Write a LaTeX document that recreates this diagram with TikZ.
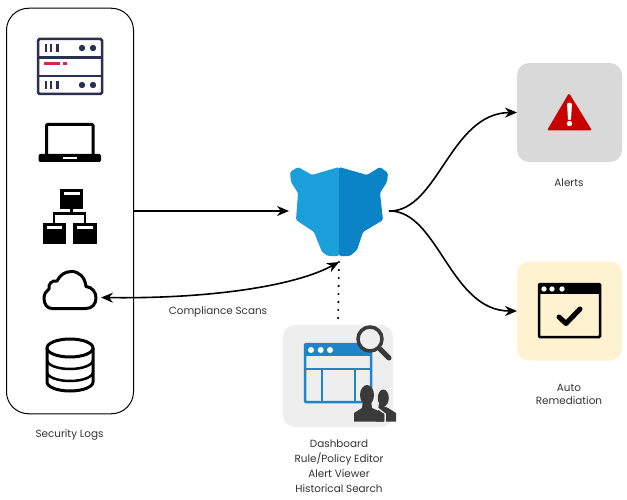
\documentclass[tikz,border=0pt]{standalone}
\usepackage{fontspec}
\setmainfont{Poppins}
\usepackage{xcolor}
\usetikzlibrary{arrows.meta}
\tikzset{every path/.append style={line width=1.6pt}}
\definecolor{servernavy}{HTML}{2B3050}
\definecolor{serverred}{HTML}{E0234E}
\definecolor{bearlight}{HTML}{1A9FDB}
\definecolor{beardark}{HTML}{0A84C6}
\definecolor{panelblue}{HTML}{1E86C8}
\definecolor{dashgrey}{HTML}{EEEEEE}
\definecolor{alertgrey}{HTML}{D9D9D9}
\definecolor{autocream}{HTML}{FFF2D0}
\definecolor{alertred}{HTML}{C80000}
\definecolor{peoplegrey}{HTML}{3A3A3A}
\definecolor{captiongrey}{HTML}{333333}
\tikzset{
  flow/.style={-{Stealth[length=12pt,width=10pt]}},
  twoflow/.style={{Stealth[length=12pt,width=10pt]}-{Stealth[length=12pt,width=10pt]}},
  anchorbox/.style={inner sep=0pt,outer sep=0pt},
  tilebox/.style={anchorbox,rounded corners=12pt,minimum width=105pt,minimum height=99pt},
  caption/.style={inner sep=0pt,text=captiongrey,align=center,font=\fontsize{10.4}{13}\selectfont},
}
\begin{document}
\begin{tikzpicture}[x=1pt,y=-1pt]
 \useasboundingbox (0,0) rectangle (627,500);
 \fill[white] (0,0) rectangle (627,500);
 \node[anchorbox,draw=black,line width=1pt,rounded corners=22pt,minimum width=127pt,minimum height=405.5pt] (logs) at (70,211) {};
 \node[anchorbox,minimum width=100pt,minimum height=102pt] (bear) at (339,211) {};
 \node[tilebox,fill=alertgrey] (alerts) at (569.5,112.5) {};
 \node[tilebox,fill=autocream] (auto) at (569.5,311) {};
 \node[anchorbox,fill=dashgrey,rounded corners=12pt,minimum width=110pt,minimum height=102pt] (dash) at (338,376) {};
 \node[anchorbox,minimum width=62pt,minimum height=20pt] (cloudicon) at (70,297.5) {};
 % server
 \draw[servernavy,line width=2.5pt,rounded corners=1.5pt] (38,39) rectangle (102,94);
 \draw[servernavy,line width=2.5pt] (38,57.5) -- (102,57.5);
 \draw[servernavy,line width=2.5pt] (38,76) -- (102,76);
 \fill[servernavy] (44.5,44) rectangle (47,52);
 \fill[servernavy] (49.5,44) rectangle (52,52);
 \fill[servernavy] (56,44) rectangle (58.5,52);
 \fill[servernavy] (44.5,81) rectangle (47,89);
 \fill[servernavy] (49.5,81) rectangle (52,89);
 \fill[servernavy] (56,81) rectangle (58.5,89);
 \fill[servernavy] (82,48) circle [radius=3.2];
 \fill[servernavy] (93,48) circle [radius=3.2];
 \fill[servernavy] (82,85) circle [radius=3.2];
 \fill[servernavy] (93,85) circle [radius=3.2];
 \fill[serverred] (44,62) rectangle (60,65);
 \fill[serverred] (63,62) rectangle (67,65);
 % laptop
 \draw[line width=3pt,rounded corners=1pt] (46.5,124.5) rectangle (93,156);
 \fill[rounded corners=2pt] (38.5,154) -- (101,154) -- (101,162) -- (38.5,162) -- cycle;
 \fill[white] (63,157) rectangle (77,159);
 % network
 \fill (60,189) rectangle (83,209);
 \fill[white] (64,192) rectangle (80,195);
 \draw[line width=2.5pt] (71.5,209) -- (71.5,213.5);
 \draw[line width=2.5pt] (54,224) -- (54,213.5) -- (85,213.5) -- (85,224);
 \fill (42.5,223) rectangle (66,243.5);
 \fill (73,223) rectangle (97,243.5);
 \fill[white] (46.5,226) rectangle (62,229);
 \fill[white] (77,226) rectangle (93,229);
 % cloud
 \draw[line width=3pt,line join=round] (52,308.5) -- (86,308.5) .. controls (92,308.5) and (96,304) .. (96,298) .. controls (96,292) and (92,287) .. (86,286.5) .. controls (85,277) and (79,271.5) .. (71.5,271.5) .. controls (65,271.5) and (60,275) .. (57,281) .. controls (52,280) and (48,284) .. (49,289) .. controls (46,291) and (44,294) .. (44,298.5) .. controls (44,304) and (47,308.5) .. (52,308.5) -- cycle;
 % database
 \draw[line width=3pt] (70,348) circle [x radius=23,y radius=9];
 \draw[line width=3pt] (47,348) -- (47,382) arc [start angle=180,end angle=0,x radius=23,y radius=9] -- (93,348);
 \draw[line width=2.5pt] (47,360) arc [start angle=180,end angle=0,x radius=23,y radius=9];
 \draw[line width=2.5pt] (47,372) arc [start angle=180,end angle=0,x radius=23,y radius=9];
 % bear
 \fill[bearlight,rounded corners=1.5pt] (339,167) -- (312,175) -- (298,167) -- (290,172) -- (291,182) -- (298,193) -- (296,220) -- (314,232) -- (322,252) -- (328,256) -- (339,256) -- cycle;
 \fill[beardark,rounded corners=1.5pt] (339,167) -- (367,175) -- (380,167) -- (388,173) -- (387,182) -- (380,193) -- (383,220) -- (363,232) -- (357,250) -- (350,256) -- (339,256) -- cycle;
 % dashboard window
 \draw[panelblue,line width=2.5pt,rounded corners=1pt] (305,344) rectangle (371,402);
 \fill[panelblue] (305,344) rectangle (371,356);
 \draw[panelblue,line width=2.5pt] (305,369) -- (371,369);
 \draw[panelblue,line width=2.5pt] (322,369) -- (322,402);
 \draw[panelblue,line width=2.5pt] (355,369) -- (355,402);
 \fill[white] (311,350) circle [radius=3];
 \fill[white] (320.7,350) circle [radius=3];
 \fill[white] (330,350) circle [radius=3];
 \draw[peoplegrey,fill=dashgrey,line width=3.5pt] (370,339) circle [radius=12];
 \draw[peoplegrey,line width=5pt,line cap=round] (380,349) -- (389,358);
 \fill[peoplegrey] (383.3,398) circle [x radius=5.5,y radius=8.5];
 \fill[peoplegrey] (376,421.7) -- (396,421.7) -- (396,413) -- (388,408) -- (379,404) -- cycle;
 \draw[dashgrey,line width=1.5pt] (373.5,405) -- (385,414) -- (385,423);
 \fill[peoplegrey] (367,395) circle [x radius=7,y radius=10];
 \fill[peoplegrey] (354,421.7) -- (354,413) -- (362,408) -- (363,400) -- (371,400) -- (372,408) -- (384,413.5) -- (384,421.7) -- cycle;
 % alert sign
 \fill[alertred,rounded corners=2pt] (569,93) -- (592,130.5) -- (547,130.5) -- cycle;
 \fill[white,rounded corners=1pt] (567,103) -- (572,103) -- (571,120) -- (568,120) -- cycle;
 \fill[white] (569.5,123.5) circle [radius=2.7];
 % auto window
 \draw[line width=2.5pt,rounded corners=1pt] (539,284) rectangle (600,337);
 \fill (539,284) rectangle (600,294);
 \fill[white] (544,289) circle [radius=2.7];
 \fill[white] (552,289) circle [radius=2.7];
 \fill[white] (562,289) circle [radius=2.7];
 \draw[line width=5pt,line cap=round,line join=round] (559,317) -- (566,323.5) -- (580,309);
 % links
 \draw[flow] (logs.east) -- (bear.west);
 \draw[flow] (bear.east) .. controls (438,212) and (450,113) .. (alerts.west);
 \draw[flow] (bear.east) .. controls (438,210) and (450,311) .. (auto.west);
 \draw[twoflow] (cloudicon.east) .. controls (210,299) and (295,286) .. (bear.south);
 \draw[line width=2.4pt,line cap=round,dash pattern=on 0pt off 8pt,shorten >=6pt] (bear.south) -- (dash.north);
 % captions
 \node[caption] (logslabel) at (69.5,435) {Security Logs};
 \node[caption] (scanslabel) at (218,312) {Compliance Scans};
 \node[caption] (alertslabel) at (569,183) {Alerts};
 \node[caption] (autolabel) at (569,394) {Auto\\Remediation};
 \node[caption,font=\fontsize{10.4}{15}\selectfont] (dashlabel) at (339,466) {Dashboard\\Rule/Policy Editor\\Alert Viewer\\Historical Search};
\end{tikzpicture}
\end{document}
